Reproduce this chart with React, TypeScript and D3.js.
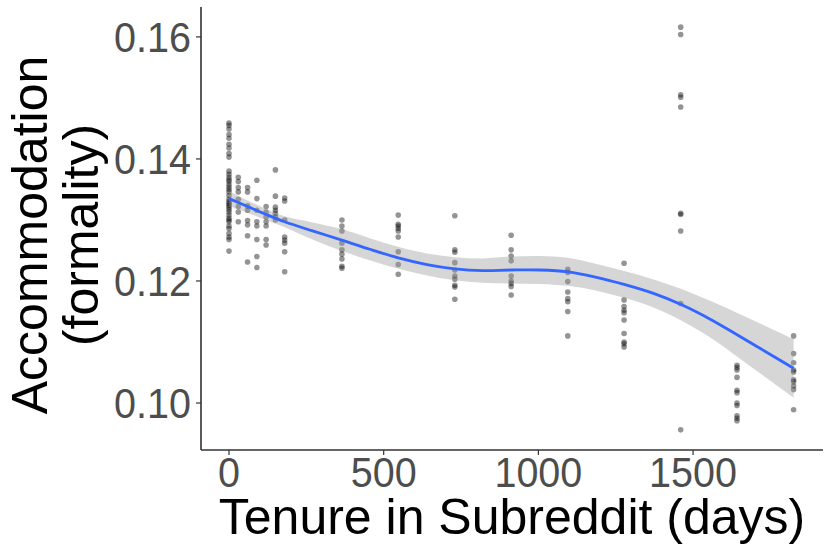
import React from "react";
import * as d3 from "d3";

// ---- data ----
const tenureDays = [0, 30, 60, 90, 120, 150, 180, 365, 547, 730, 912, 1095, 1277, 1460, 1642, 1825];

const accommodation: number[][] = [
  [0.1459, 0.1455, 0.1449, 0.1440, 0.1434, 0.1424, 0.1418, 0.1409, 0.1403, 0.1380, 0.1375, 0.1370, 0.1366,
   0.1363, 0.1358, 0.1354, 0.1350, 0.1346, 0.1340, 0.1334, 0.1330, 0.1327, 0.1324, 0.1321, 0.1317, 0.1313,
   0.1308, 0.1303, 0.1300, 0.1297, 0.1290, 0.1286, 0.1278, 0.1272, 0.1268, 0.1249],
  [0.1370, 0.1363, 0.1353, 0.1346, 0.1334, 0.1322, 0.1313, 0.1297],
  [0.1353, 0.1346, 0.1323, 0.1316, 0.1299, 0.1292, 0.1274, 0.1231],
  [0.1365, 0.1335, 0.1316, 0.1297, 0.1290, 0.1268, 0.1240, 0.1222],
  [0.1322, 0.1313, 0.1305, 0.1297, 0.1290, 0.1268, 0.1259],
  [0.1382, 0.1339, 0.1321, 0.1316, 0.1311, 0.1305, 0.1300],
  [0.1336, 0.1331, 0.1300, 0.1272, 0.1267, 0.1262, 0.1248, 0.1215],
  [0.1300, 0.1290, 0.1282, 0.1262, 0.1251, 0.1244, 0.1236, 0.1224, 0.1221],
  [0.1308, 0.1293, 0.1290, 0.1286, 0.1282, 0.1272, 0.1248, 0.1227, 0.1211],
  [0.1307, 0.1251, 0.1247, 0.1230, 0.1218, 0.1208, 0.1203, 0.1193, 0.1190, 0.1170],
  [0.1275, 0.1251, 0.1241, 0.1233, 0.1208, 0.1200, 0.1196, 0.1191, 0.1177],
  [0.1219, 0.1214, 0.1199, 0.1182, 0.1171, 0.1166, 0.1150, 0.1110],
  [0.1229, 0.1169, 0.1158, 0.1152, 0.1148, 0.1136, 0.1114, 0.1100, 0.1097, 0.1092],
  [0.1616, 0.1604, 0.1505, 0.1501, 0.1485, 0.1311, 0.1309, 0.1282, 0.1163, 0.0956],
  [0.1062, 0.1058, 0.1054, 0.1042, 0.1021, 0.1017, 0.1000, 0.0996, 0.0979, 0.0975, 0.0971],
  [0.1110, 0.1081, 0.1066, 0.1054, 0.1051, 0.1038, 0.1035, 0.1028, 0.1022, 0.0989],
];

// loess smooth
const smoothDays = [0, 60, 120, 180, 270, 365, 455, 547, 640, 730, 820, 912, 1005, 1095, 1188, 1280, 1370, 1463, 1557, 1645, 1735, 1825];
const smoothFit = [0.1335, 0.1322, 0.1309, 0.1297, 0.1282, 0.1267, 0.1252, 0.1238, 0.1227, 0.1220, 0.1217, 0.1218, 0.1218, 0.1215, 0.1206, 0.1194, 0.1180, 0.1161, 0.1137, 0.1111, 0.1084, 0.1057];
const smoothHalfWidth = [0.0012, 0.0010, 0.0009, 0.0009, 0.0014, 0.0018, 0.0018, 0.0018, 0.0018, 0.0019, 0.0020, 0.0022, 0.0023, 0.0023, 0.0022, 0.0022, 0.0023, 0.0026, 0.0030, 0.0036, 0.0042, 0.0048];

const xTicks = [0, 500, 1000, 1500];
const yTicks = [0.10, 0.12, 0.14, 0.16];
const xTitle = "Tenure in Subreddit (days)";
const yTitleLines = ["Accommodation", "(formality)"];

const W = 830;
const H = 554;
const FONT = "'Liberation Sans', Arial, Helvetica, sans-serif";
const TICK_FONT = 43;
const TICK_SQUEEZE = 0.92;

type S = { d: number; f: number; h: number };

export default function App() {
  const x = d3.scaleLinear().domain([-90.5, 1920]).range([201, 823]);
  const y = d3.scaleLinear().domain([0.0923, 0.1649]).range([450, 7]);

  const smooth: S[] = smoothDays.map((d, i) => ({ d, f: smoothFit[i], h: smoothHalfWidth[i] }));
  const band = d3
    .area<S>()
    .x((p) => x(p.d))
    .y0((p) => y(p.f - p.h))
    .y1((p) => y(p.f + p.h))
    .curve(d3.curveCatmullRom);
  const line = d3
    .line<S>()
    .x((p) => x(p.d))
    .y((p) => y(p.f))
    .curve(d3.curveCatmullRom);

  const pts: { d: number; v: number }[] = [];
  tenureDays.forEach((d, i) => accommodation[i].forEach((v) => pts.push({ d, v })));

  const [x0, x1] = x.range();
  const [yb, yt] = y.range();

  return (
    <div style={{ position: "fixed", left: 0, top: 0 }}>
      <svg width={W} height={H} style={{ display: "block", background: "#fff" }} fontFamily={FONT}>
        {/* points */}
        <g>
          {pts.map((p, i) => (
            <circle key={i} cx={x(p.d)} cy={y(p.v)} r={2.8} fill="#000" fillOpacity={0.42} />
          ))}
        </g>
        {/* confidence band */}
        <path d={band(smooth) || ""} fill="#999999" fillOpacity={0.4} />
        {/* smooth line */}
        <path d={line(smooth) || ""} fill="none" stroke="#3366FF" strokeWidth={2.8} />

        {/* axes */}
        <line x1={x0} x2={x0} y1={yt} y2={yb} stroke="#333" strokeWidth={1.6} />
        <line x1={x0} x2={x1} y1={yb} y2={yb} stroke="#333" strokeWidth={1.6} />
        {yTicks.map((t) => (
          <g key={t}>
            <line x1={x0 - 5} x2={x0} y1={y(t)} y2={y(t)} stroke="#333" strokeWidth={1.2} />
            <text
              transform={`translate(${x0 - 10},${y(t)}) scale(${TICK_SQUEEZE},1)`}
              dy="0.36em"
              textAnchor="end"
              fontSize={TICK_FONT}
              fill="#4D4D4D"
            >
              {t.toFixed(2)}
            </text>
          </g>
        ))}
        {xTicks.map((t) => (
          <g key={t}>
            <line x1={x(t)} x2={x(t)} y1={yb} y2={yb + 5} stroke="#333" strokeWidth={1.2} />
            <text
              transform={`translate(${x(t)},487) scale(${TICK_SQUEEZE},1)`}
              textAnchor="middle"
              fontSize={TICK_FONT}
              fill="#4D4D4D"
            >
              {t}
            </text>
          </g>
        ))}

        {/* titles */}
        <text x={(x0 + x1) / 2} y={534} textAnchor="middle" fontSize={50} fill="#000">
          {xTitle}
        </text>
        <text transform="translate(47,235) rotate(-90)" textAnchor="middle" fontSize={50} fill="#000">
          {yTitleLines[0]}
        </text>
        <text transform="translate(98,235) rotate(-90)" textAnchor="middle" fontSize={50} fill="#000">
          {yTitleLines[1]}
        </text>
      </svg>
    </div>
  );
}
